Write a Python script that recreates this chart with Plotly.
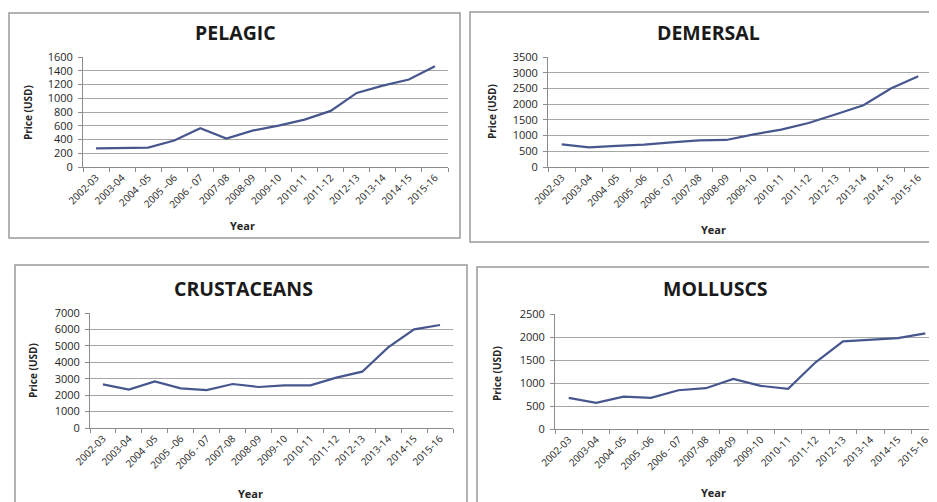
"""
Fish export prices by group, 2002-03 to 2015-16 (four line panels).
"""

import plotly.graph_objects as go

W, H = 937, 502
PAGE = 8  # the page body adds an 8px margin, so shift everything back by that

years = ['2002-03', '2003-04', '2004 -05', '2005 \u201306', '2006 - 07', '2007-08', '2008-09',
         '2009-10', '2010-11', '2011-12', '2012-13', '2013-14', '2014-15', '2015-16']

pelagic = [272, 272, 282, 385, 563, 413, 529, 602, 689, 816, 1078, 1184, 1272, 1466]
demersal = [722, 626, 669, 711, 786, 849, 860, 1040, 1189, 1401, 1677, 1964, 2495, 2887]
crustaceans = [2657, 2333, 2840, 2414, 2312, 2677, 2495, 2596, 2596, 3063, 3428, 4909, 6004, 6268]
molluscs = [676, 567, 705, 676, 843, 887, 1090, 938, 872, 1450, 1904, 1933, 1977, 2078]

titles = ['PELAGIC', 'DEMERSAL', 'CRUSTACEANS', 'MOLLUSCS']
series = [pelagic, demersal, crustaceans, molluscs]
y_max = [1600, 3500, 7000, 2500]
y_step = [200, 500, 1000, 500]


def px_x(x):
    return (x - PAGE) / W


def px_y(y):
    return 1 - (y - PAGE) / H


# pixel layout of each panel (screen coords): plot box, frame, title / axis-label centres
panels = [
    dict(plot=(83, 448, 57, 167), frame=(9, 460, 13, 238), title=(235, 33), year=(242, 225), price=(28, 113)),
    dict(plot=(548, 932, 57, 167), frame=(470, 960, 12, 242), title=(708, 33), year=(713, 229), price=(492, 112)),
    dict(plot=(90, 453, 313, 428), frame=(15, 467, 265, 530), title=(243, 288), year=(250, 493), price=(33, 371)),
    dict(plot=(555, 939, 314, 429), frame=(477, 960, 267, 530), title=(715, 288), year=(713, 492), price=(497, 373)),
]

LINE = '#47578e'
GRID = '#a6a6a6'
AXIS = '#8c8c8c'
TEXT = '#262626'
FONT = 'Open Sans'

fig = go.Figure()
shapes = []
annotations = []


def label(text, x, y, size, angle=0, color=TEXT):
    return dict(text=text, x=px_x(x), y=px_y(y), xref='paper', yref='paper',
                xanchor='center', yanchor='middle', showarrow=False, textangle=angle,
                font=dict(family=FONT, size=size, color=color))


for i, (p, name, vals) in enumerate(zip(panels, titles, series)):
    n = '' if i == 0 else str(i + 1)
    x0, x1, y0, y1 = p['plot']

    fig.add_trace(go.Scatter(
        x=years, y=vals, mode='lines', xaxis='x' + n, yaxis='y' + n,
        line=dict(color=LINE, width=2.2), showlegend=False,
        hovertemplate='%{x}<br>%{y} USD<extra>' + name + '</extra>'
    ))

    # the right edge of the last panel runs past the window; clamp the domain and trim the range
    right = min(px_x(x1), 1.0)
    xr = -0.5 + len(years) * (right - px_x(x0)) / (px_x(x1) - px_x(x0))

    fig.update_layout({
        'xaxis' + n: dict(
            domain=[px_x(x0), right], anchor='y' + n, type='category', automargin=False,
            range=[-0.5, xr], tickson='boundaries', ticks='outside', ticklen=4,
            tickcolor=AXIS, showline=True, linecolor=AXIS, linewidth=1, showgrid=False,
            tickangle=-45, tickfont=dict(family=FONT, size=10, color=TEXT)
        ),
        'yaxis' + n: dict(
            domain=[px_y(y1), px_y(y0)], anchor='x' + n, automargin=False,
            range=[0, y_max[i]], dtick=y_step[i], ticks='outside', ticklen=4,
            tickcolor=AXIS, showline=True, linecolor=AXIS, linewidth=1,
            showgrid=True, gridcolor=GRID, gridwidth=1, zeroline=False,
            tickfont=dict(family=FONT, size=11, color=TEXT), ticklabelstandoff=3
        ),
    })

    fx0, fx1, fy0, fy1 = p['frame']
    shapes.append(dict(type='rect', xref='paper', yref='paper',
                       x0=px_x(fx0), x1=px_x(fx1), y0=px_y(fy1), y1=px_y(fy0),
                       line=dict(color='#9a9a9a', width=1.5), layer='below'))

    annotations.append(label('<b>' + name + '</b>', *p['title'], 19.5, color='#1a1a1a'))
    annotations.append(label('<b>Year</b>', *p['year'], 11))
    annotations.append(label('<b>Price (USD)</b>', *p['price'], 10, angle=-90))

fig.update_layout(
    template='none',
    width=W, height=H,
    margin=dict(l=0, r=0, t=0, b=0, pad=0),
    paper_bgcolor='white', plot_bgcolor='white',
    shapes=shapes, annotations=annotations,
    font=dict(family=FONT, color=TEXT)
)

fig.write_html("out.html")
